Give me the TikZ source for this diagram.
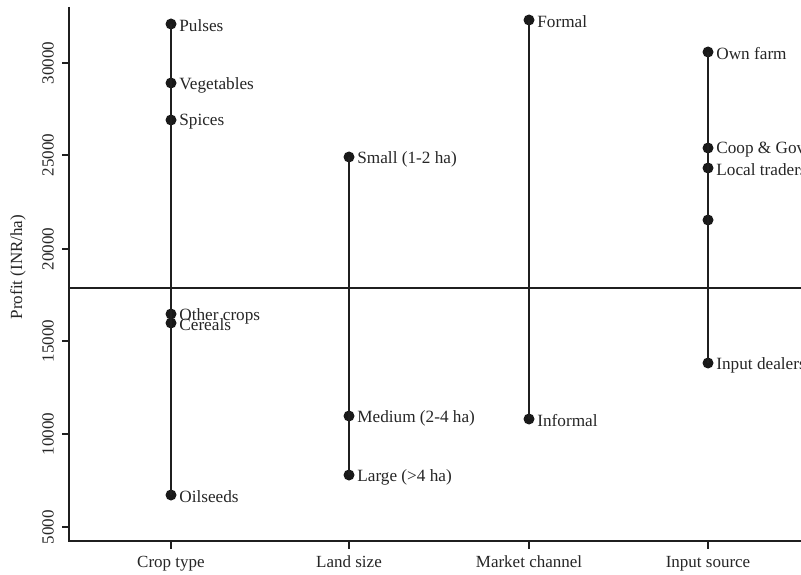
\documentclass[tikz,border=0pt]{standalone}
\usepackage{fontspec}
\setmainfont{Liberation Serif}
\begin{document}
\begin{tikzpicture}[x=1pt,y=-1pt,
  dot/.style={circle,fill=black!90,inner sep=0pt,minimum size=11pt},
  lab/.style={anchor=west,inner sep=0pt,xshift=2.5pt,yshift=-2pt,font=\fontsize{17.2}{17}\selectfont,text=black!85},
  stem/.style={line width=2pt,black!88},
  axis/.style={line width=1.4pt,black!88},
  meanline/.style={line width=1.4pt,black!88},
  ticklab/.style={font=\fontsize{17}{17}\selectfont,text=black!85,inner sep=0pt},
  title/.style={font=\fontsize{17}{17}\selectfont,text=black!85,inner sep=0pt}]
\useasboundingbox (0,0) rectangle (801,575);
\clip (0,0) rectangle (801,575);
\fill[white] (0,0) rectangle (801,575);

% axes
\coordinate (ytop) at (69,7);
\coordinate (orig) at (69,541);
\coordinate (xend) at (801,541);
\draw[axis] (ytop) -- (orig) -- (xend);

% y ticks
\foreach \v/\py in {5000/527,10000/434,15000/341,20000/249,25000/155,30000/63}{
  \coordinate (yt\v) at (69,\py);
  \draw[axis] (yt\v) -- ++(-7,0);
  \node[ticklab,rotate=90] at (48,\py) {\v};
}
\node[title,rotate=90] (ytitle) at (18,267) {Profit (INR/ha)};

% x ticks
\foreach \n/\px/\t in {c/171/Crop type,l/349/Land size,m/529/Market channel,i/708/Input source}{
  \coordinate (xt\n) at (\px,541);
  \draw[axis] (xt\n) -- ++(0,8);
  \node[ticklab,anchor=base] at (\px,567) {\t};
}

% mean line
\coordinate (mL) at (69,288);
\coordinate (mR) at (801,288);
\draw[meanline] (mL) -- (mR);

% Crop type
\node[dot] (pul) at (171,24) {};
\node[dot] (veg) at (171,83) {};
\node[dot] (spi) at (171,120) {};
\node[dot] (oth) at (171,314) {};
\node[dot] (cer) at (171,323) {};
\node[dot] (oil) at (171,495) {};
\draw[stem] (pul.center) -- (oil.center);
\foreach \a/\t in {pul/Pulses,veg/Vegetables,spi/Spices,oth/Other crops,cer/Cereals,oil/Oilseeds}
  \node[lab] at (\a.east) {\t};

% Land size
\node[dot] (sma) at (349,157) {};
\node[dot] (med) at (349,416) {};
\node[dot] (lar) at (349,475) {};
\draw[stem] (sma.center) -- (lar.center);
\node[lab] at (sma.east) {Small (1-2 ha)};
\node[lab] at (med.east) {Medium (2-4 ha)};
\node[lab] at (lar.east) {Large (>4 ha)};

% Market channel
\node[dot] (for) at (529,20) {};
\node[dot] (inf) at (529,419) {};
\draw[stem] (for.center) -- (inf.center);
\node[lab] at (for.east) {Formal};
\node[lab] at (inf.east) {Informal};

% Input source
\node[dot] (own) at (708,52) {};
\node[dot] (coo) at (708,148) {};
\node[dot] (loc) at (708,168) {};
\node[dot] (unl) at (708,220) {};
\node[dot] (ind) at (708,363) {};
\draw[stem] (own.center) -- (ind.center);
\node[lab] at (own.east) {Own farm};
\node[lab] at (coo.east) {Coop \& Gov};
\node[lab] at (loc.east) {Local traders};
\node[lab] at (ind.east) {Input dealers};
\end{tikzpicture}
\end{document}
